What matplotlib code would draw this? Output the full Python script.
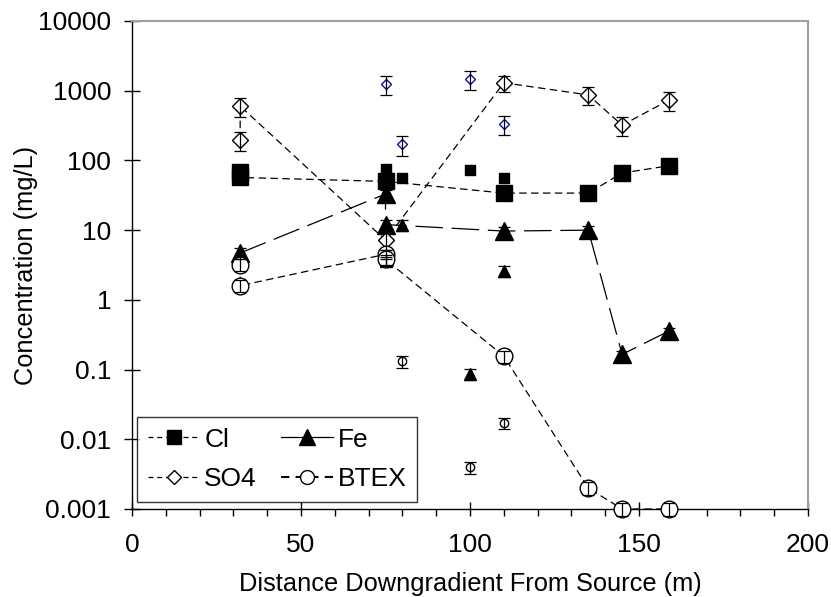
import matplotlib
matplotlib.use("Agg")
import matplotlib.pyplot as plt
from matplotlib.lines import Line2D
from matplotlib.ticker import FixedLocator, MultipleLocator, FixedFormatter

plt.rcParams['font.family'] = ['Liberation Sans', 'DejaVu Sans']

# ---- data ----
cl_x = [32, 32, 75, 110, 135, 145, 159]
cl_y = [68, 57, 50, 34, 34, 66, 84]
cl_pts_x = [75, 80, 100, 110]
cl_pts_y = [75, 56, 73, 56]

fe_x = [32, 75, 75, 110, 135, 145, 159]
fe_y = [4.7, 33, 12, 9.7, 10, 0.165, 0.36]
fe_err = [0.8, 5, 2, 1.5, 1.5, 0.02, 0.04]
fe_pts_x = [75, 80, 100, 110]
fe_pts_y = [3.6, 12, 0.086, 2.6]
fe_pts_err = [0.5, 2.2, 0.015, 0.45]

so4_x = [32, 32, 75, 110, 135, 145, 159]
so4_y = [196, 603, 7.2, 1300, 870, 320, 740]
so4_err = [60, 180, 2, 330, 250, 95, 220]
so4_pts_x = [75, 80, 100, 110]
so4_pts_y = [1250, 170, 1470, 330]
so4_pts_err = [380, 55, 450, 100]

btex_x = [32, 32, 75, 75, 110, 135, 145, 159]
btex_y = [3.2, 1.6, 4.5, 3.8, 0.156, 0.002, 0.001, 0.001]
btex_err = [0.6, 0.3, 0.7, 0.6, 0.03, 0.0004, 0.0002, 0.0002]
btex_pts_x = [80, 100, 110]
btex_pts_y = [0.132, 0.004, 0.017]
btex_pts_err = [0.025, 0.0008, 0.003]

xticks = [0, 50, 100, 150, 200]
yticks = [0.001, 0.01, 0.1, 1, 10, 100, 1000, 10000]
ytick_labels = ['0.001', '0.01', '0.1', '1', '10', '100', '1000', '10000']

fig = plt.figure(figsize=(8.31, 5.97), dpi=100)
ax = fig.add_axes([132/831, 1-509/597, 676/831, 488/597])

FS = 19
LFS = 18.3
lw = 0.9
dash_short = (6, 3.5)
dash_long = (22, 7)

ekw = dict(fmt='none', ecolor='black', elinewidth=0.9, capsize=4, capthick=0.9, zorder=4)

# Cl
ax.plot(cl_x, cl_y, color='black', lw=lw, dashes=dash_short, marker='s', ms=12,
        mfc='black', mec='black', zorder=3)
ax.plot(cl_pts_x, cl_pts_y, ls='none', marker='s', ms=7.5, mfc='black', mec='black', zorder=3)

# Fe
ax.plot(fe_x, fe_y, color='black', lw=lw, dashes=dash_long, marker='^', ms=12.5,
        mfc='black', mec='black', zorder=3)
ax.errorbar(fe_x, fe_y, yerr=fe_err, **ekw)
ax.plot(fe_pts_x, fe_pts_y, ls='none', marker='^', ms=8, mfc='black', mec='black', zorder=3)
ax.errorbar(fe_pts_x, fe_pts_y, yerr=fe_pts_err, **ekw)

# SO4
ax.plot(so4_x, so4_y, color='black', lw=lw, dashes=dash_short, marker='D', ms=8.6,
        mfc='white', mec='black', mew=1.0, zorder=3)
ax.errorbar(so4_x, so4_y, yerr=so4_err, **ekw)
ax.plot(so4_pts_x, so4_pts_y, ls='none', marker='D', ms=5.2, mfc='white', mec='#1010a0',
        mew=1.0, zorder=3)
ax.errorbar(so4_pts_x, so4_pts_y, yerr=so4_pts_err, **ekw)

# BTEX
ax.plot(btex_x, btex_y, color='black', lw=lw, dashes=dash_short, marker='o', ms=12,
        mfc='white', mec='black', mew=1.0, zorder=3, clip_on=False)
ax.errorbar(btex_x, btex_y, yerr=btex_err, clip_on=False, **ekw)
ax.plot(btex_pts_x, btex_pts_y, ls='none', marker='o', ms=6, mfc='white', mec='black',
        mew=1.0, zorder=3)
ax.errorbar(btex_pts_x, btex_pts_y, yerr=btex_pts_err, **ekw)

ax.set_yscale('log')
ax.set_xlim(0, 200)
ax.set_ylim(0.001, 10000)
ax.xaxis.set_major_locator(FixedLocator(xticks))
ax.xaxis.set_minor_locator(MultipleLocator(10))
ax.yaxis.set_major_locator(FixedLocator(yticks))
ax.yaxis.set_major_formatter(FixedFormatter(ytick_labels))
ax.yaxis.set_minor_locator(FixedLocator([]))

ax.tick_params(axis='both', which='major', direction='inout', length=12, width=1,
               labelsize=FS, colors='black')
ax.tick_params(axis='x', which='major', length=10, pad=12)
ax.tick_params(axis='y', which='major', pad=9)
ax.tick_params(axis='x', which='minor', direction='out', length=5, width=1)

for s in ['left', 'bottom']:
    ax.spines[s].set_color('black')
    ax.spines[s].set_linewidth(1)
for s in ['top', 'right']:
    ax.spines[s].set_color('#a0a0a0')
    ax.spines[s].set_linewidth(1.5)

ax.set_xlabel('Distance Downgradient From Source (m)', fontsize=LFS, labelpad=11)
ax.set_ylabel('Concentration (mg/L)', fontsize=LFS, labelpad=0)

handles = [
    Line2D([], [], color='black', lw=lw, dashes=(4, 3), marker='s', ms=10, mfc='black', mec='black'),
    Line2D([], [], color='black', lw=lw, dashes=(4, 3), marker='D', ms=7, mfc='white', mec='black'),
    Line2D([], [], color='black', lw=lw, marker='^', ms=11, mfc='black', mec='black'),
    Line2D([], [], color='black', lw=1.5, dashes=(4, 3), marker='o', ms=10, mfc='white', mec='black'),
]
labels = ['Cl', 'SO4', 'Fe', 'BTEX']
leg = ax.legend(handles, labels, ncol=2, loc='lower left', bbox_to_anchor=(0.0074, 0.0143),
                borderaxespad=0, fontsize=FS, fancybox=False, frameon=True, edgecolor='black',
                handlelength=2.0, handletextpad=0.15, columnspacing=0.9, labelspacing=0.6,
                borderpad=0.4)
leg.get_frame().set_linewidth(1)
leg.set_zorder(10)

fig.savefig('out.png', dpi=100, facecolor='white')
